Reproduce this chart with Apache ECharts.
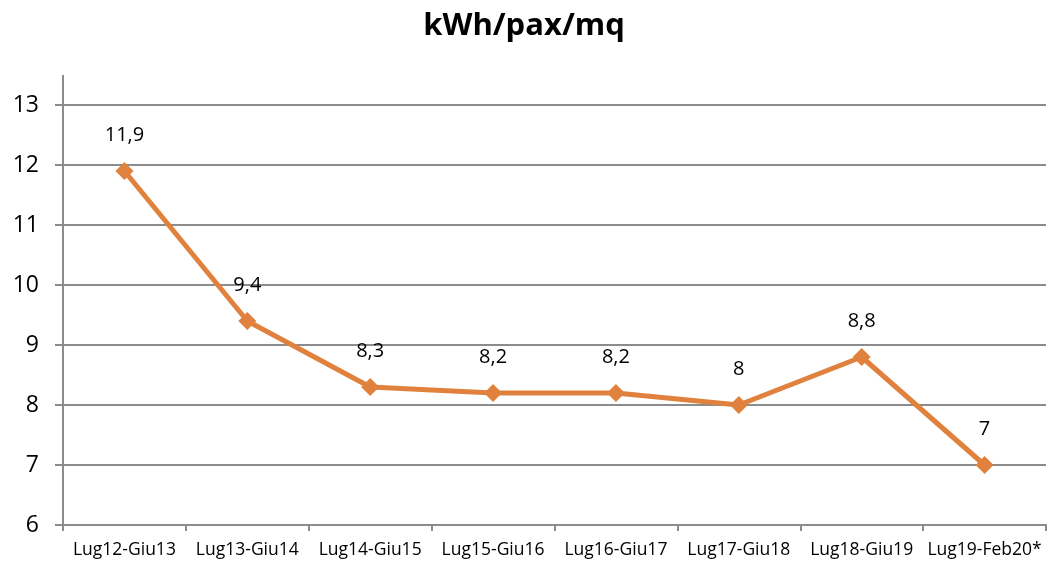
<!DOCTYPE html>
<html>
<head>
<meta charset="utf-8">
<script src="https://cdn.jsdelivr.net/npm/echarts@6/dist/echarts.min.js"></script>
<style>
  html, body { margin: 0; padding: 0; background: #fff; }
  #chart { width: 1048px; height: 563px; }
</style>
</head>
<body>
<div id="chart"></div>
<script>
const categories = ["Lug12-Giu13", "Lug13-Giu14", "Lug14-Giu15", "Lug15-Giu16",
  "Lug16-Giu17", "Lug17-Giu18", "Lug18-Giu19", "Lug19-Feb20*"];
const values = [11.9, 9.4, 8.3, 8.2, 8.2, 8, 8.8, 7];

const chart = echarts.init(document.getElementById("chart"));
const font = "'Open Sans', 'Liberation Sans', sans-serif";

chart.setOption({
  animation: false,
  title: {
    text: "kWh/pax/mq",
    left: "center",
    top: 6,
    textStyle: { fontFamily: font, fontSize: 31, fontWeight: "bold", color: "#000" },
  },
  grid: { left: 63, right: 2, top: 105, bottom: 38 },
  xAxis: {
    type: "category",
    data: categories,
    boundaryGap: true,
    axisLine: { lineStyle: { color: "#8c8c8c", width: 2 } },
    axisTick: { show: true, length: 6, lineStyle: { color: "#8c8c8c", width: 2 } },
    axisLabel: { fontFamily: font, fontSize: 17.5, color: "#000", margin: 16, interval: 0 },
  },
  yAxis: {
    type: "value",
    min: 6,
    max: 13,
    interval: 1,
    axisLine: { show: true, lineStyle: { color: "#8c8c8c", width: 2 } },
    axisTick: { show: true, length: 8, lineStyle: { color: "#8c8c8c", width: 2 } },
    axisLabel: { fontFamily: font, fontSize: 23, color: "#000", margin: 24 },
    splitLine: { lineStyle: { color: "#8c8c8c", width: 2 } },
  },
  series: [
    {
      type: "line",
      data: values,
      symbol: "diamond",
      symbolSize: 18,
      lineStyle: { color: "#E0823D", width: 5 },
      itemStyle: { color: "#E0823D" },
      label: {
        show: true,
        position: "top",
        distance: 17,
        fontFamily: font,
        fontSize: 20,
        color: "#000",
        formatter: (p) => String(p.value).replace(".", ","),
      },
    },
  ],
  graphic: [
    {
      type: "line",
      shape: { x1: 63, y1: 75, x2: 63, y2: 105 },
      style: { stroke: "#8c8c8c", lineWidth: 2 },
    },
  ],
});
</script>
</body>
</html>
